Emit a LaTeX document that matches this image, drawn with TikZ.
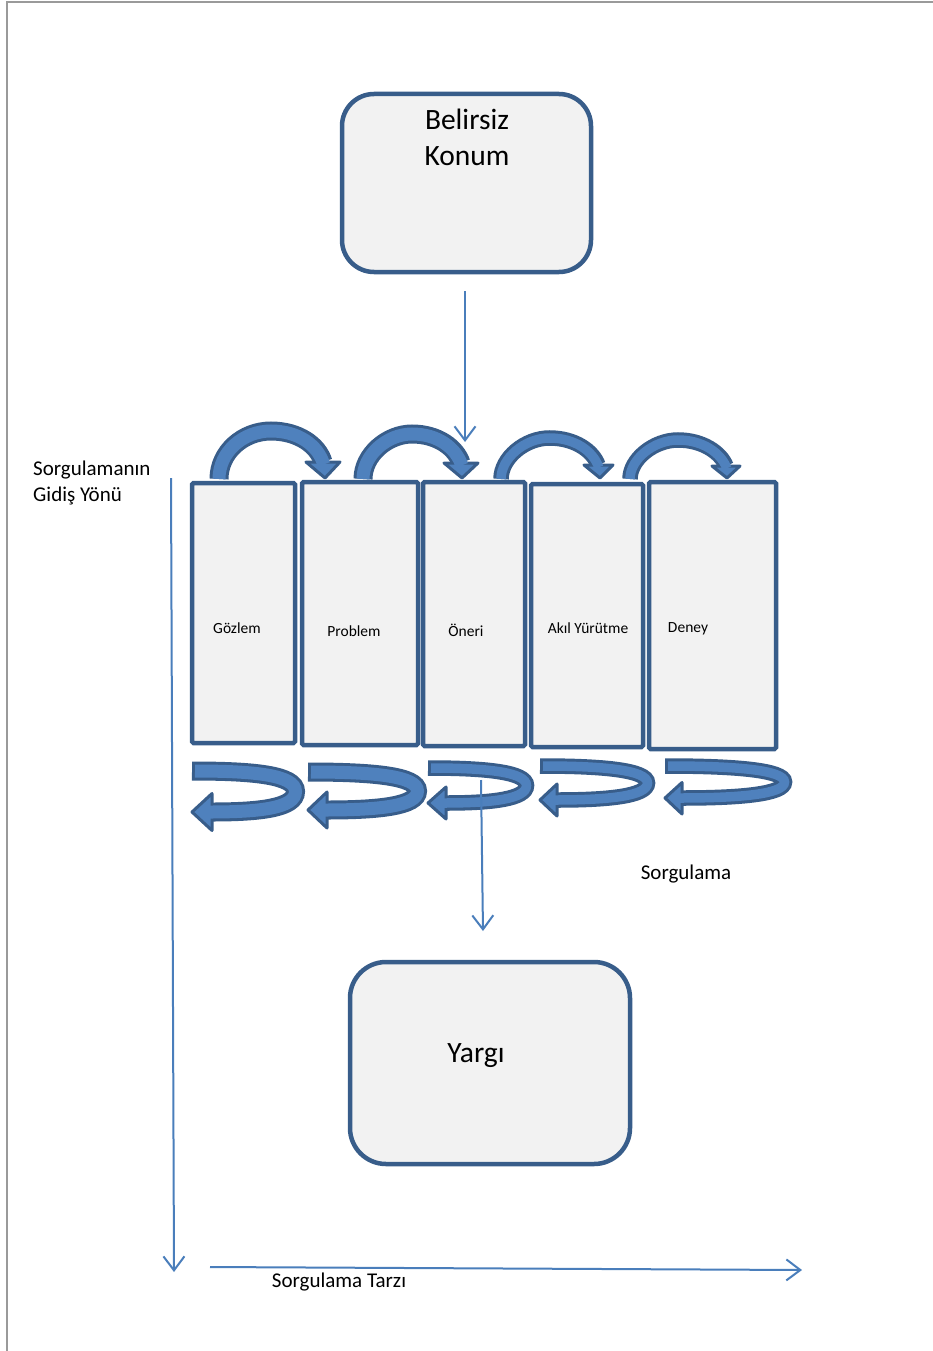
\documentclass[tikz,border=0pt]{standalone}
\usepackage{fontspec}
\setmainfont{Carlito}
\usetikzlibrary{arrows.meta}
\definecolor{dk}{HTML}{385D8A}
\definecolor{lt}{HTML}{4F81BD}
\definecolor{ln}{HTML}{4A7EBB}
\definecolor{bx}{HTML}{F2F2F2}
\definecolor{pg}{HTML}{9A9A9A}
\begin{document}
\begin{tikzpicture}[x=1pt,y=-1pt,
  bigbox/.style={draw=dk, fill=bx, line width=4.5pt, rounded corners=32pt, inner sep=0pt},
  stepbox/.style={draw=dk, fill=bx, line width=4.5pt, rounded corners=1.5pt, inner sep=0pt},
  thinarrow/.style={draw=ln, line width=2pt, -{Straight Barb[length=14pt,width=21pt]}},
  armA/.style={draw=dk, line width=19pt},
  armAin/.style={draw=lt, line width=13pt, shorten >=-2.5pt},
  armB/.style={draw=dk, line width=15.5pt},
  armBin/.style={draw=lt, line width=9.5pt, shorten >=-2.5pt},
  head/.style={draw=dk, fill=lt, line width=3pt, line join=round},
  big/.style={font=\fontsize{29.5}{34}\selectfont, anchor=base, inner sep=0pt},
  mid/.style={font=\fontsize{21}{24}\selectfont, anchor=base, inner sep=0pt},
  small/.style={font=\fontsize{15.5}{18}\selectfont, anchor=base, inner sep=0pt},
  page/.style={draw=pg, line width=1.5pt}
]
\useasboundingbox (0,0) rectangle (933,1351);
\draw[page] (7,1351) -- (7,2) -- (933,2);

% big boxes
\node[bigbox, minimum width=249pt, minimum height=178pt] (bel) at (466.5,183) {};
\node[bigbox, minimum width=280pt, minimum height=202pt, rounded corners=36pt] (yar) at (490,1063) {};

% step boxes
\node[stepbox, minimum width=103pt, minimum height=260pt] (s1) at (243.5,613) {};
\node[stepbox, minimum width=116pt, minimum height=263pt] (s2) at (360,613.5) {};
\node[stepbox, minimum width=102pt, minimum height=264pt] (s3) at (474,614) {};
\node[stepbox, minimum width=112pt, minimum height=263pt] (s4) at (587,615.5) {};
\node[stepbox, minimum width=127pt, minimum height=267pt] (s5) at (712.5,615.5) {};

% top curved arrows
\draw[armA] (219,479) .. controls (219,452) and (243,431) .. (271,431) .. controls (298,431) and (318,445) .. (323,462);
\draw[head] (306,462) -- (340,462) -- (325,478) -- cycle;
\draw[armAin] (219,479) .. controls (219,452) and (243,431) .. (271,431) .. controls (298,431) and (318,445) .. (323,462);

\draw[armA] (363,479) .. controls (363,455) and (387,434) .. (412,434) .. controls (438,434) and (456,448) .. (461,463);
\draw[head] (444,463) -- (478,463) -- (462,478) -- cycle;
\draw[armAin] (363,479) .. controls (363,455) and (387,434) .. (412,434) .. controls (438,434) and (456,448) .. (461,463);

\draw[armB] (501,479) .. controls (501,458) and (525,438) .. (549.5,438) .. controls (575,438) and (593,451) .. (598,465);
\draw[head] (584,465) -- (613,465) -- (600,478) -- cycle;
\draw[armBin] (501,479) .. controls (501,458) and (525,438) .. (549.5,438) .. controls (575,438) and (593,451) .. (598,465);

\draw[armB] (630,479) .. controls (630,459) and (654,440) .. (678,440) .. controls (703,440) and (721,453) .. (726,466);
\draw[head] (712,466) -- (740,466) -- (727,478) -- cycle;
\draw[armBin] (630,479) .. controls (630,459) and (654,440) .. (678,440) .. controls (703,440) and (721,453) .. (726,466);

% bottom U-turn arrows
\draw[armA, shorten <=-3pt] (195,771) .. controls (254,771) and (295.5,775) .. (295.5,791.5) .. controls (295.5,808) and (260,812) .. (212,812);
\draw[head] (212,793.5) -- (212,830.5) -- (192,812) -- cycle;
\draw[armAin] (195,771) .. controls (254,771) and (295.5,775) .. (295.5,791.5) .. controls (295.5,808) and (260,812) .. (212,812);

\draw[armA, shorten <=-3pt] (311,772) .. controls (373,772) and (417.5,776) .. (417.5,791) .. controls (417.5,806) and (379,810) .. (327,810);
\draw[head] (327,792) -- (327,828) -- (308,810) -- cycle;
\draw[armAin] (311,772) .. controls (373,772) and (417.5,776) .. (417.5,791) .. controls (417.5,806) and (379,810) .. (327,810);

\draw[armB, shorten <=-3pt] (431,768) .. controls (486,768) and (526.5,772) .. (526.5,785.5) .. controls (526.5,799) and (492,803) .. (446,803);
\draw[head] (446,787) -- (446,819) -- (428,803) -- cycle;
\draw[armBin] (431,768) .. controls (486,768) and (526.5,772) .. (526.5,785.5) .. controls (526.5,799) and (492,803) .. (446,803);

\draw[armB, shorten <=-3pt] (543,766) .. controls (603,766) and (647.5,770) .. (647.5,783) .. controls (647.5,796) and (609,800) .. (557,800);
\draw[head] (557,784) -- (557,816) -- (540,800) -- cycle;
\draw[armBin] (543,766) .. controls (603,766) and (647.5,770) .. (647.5,783) .. controls (647.5,796) and (609,800) .. (557,800);

\draw[armB, shorten <=-3pt] (668,766) .. controls (735,766) and (784.5,770) .. (784.5,782) .. controls (784.5,794) and (741,798) .. (682,798);
\draw[head] (682,782.5) -- (682,814) -- (665,798) -- cycle;
\draw[armBin] (668,766) .. controls (735,766) and (784.5,770) .. (784.5,782) .. controls (784.5,794) and (741,798) .. (682,798);

% thin arrows
\coordinate (a1) at (465,291);
\coordinate (a2) at (465,442);
\draw[thinarrow] (a1) -- (a2);
\coordinate (c1) at (481,780);
\coordinate (c2) at (483,931);
\draw[thinarrow] (c1) -- (c2);
\coordinate (v1) at (171,478);
\coordinate (v2) at (174,1272);
\draw[thinarrow] (v1) -- (v2);
\coordinate (h1) at (210,1267);
\coordinate (h2) at (802,1270);
\draw[thinarrow] (h1) -- (h2);

% texts
\node[big] (tb1) at (467,130) {Belirsiz};
\node[big] (tb2) at (467,166) {Konum};
\node[big] (ty) at (476,1062) {Yargı};
\node[small] (l1) at (237,633) {Gözlem};
\node[small] (l2) at (354,636) {Problem};
\node[small] (l3) at (466,636) {Öneri};
\node[small] (l4) at (588,633) {Akıl Yürütme};
\node[small] (l5) at (688,632) {Deney};
\node[mid, anchor=base west] (g1) at (33,475) {Sorgulamanın};
\node[mid, anchor=base west] (g2) at (33,501) {Gidiş Yönü};
\node[mid] (sq) at (686,879) {Sorgulama};
\node[mid] (st) at (339,1287) {Sorgulama Tarzı};
\end{tikzpicture}
\end{document}
